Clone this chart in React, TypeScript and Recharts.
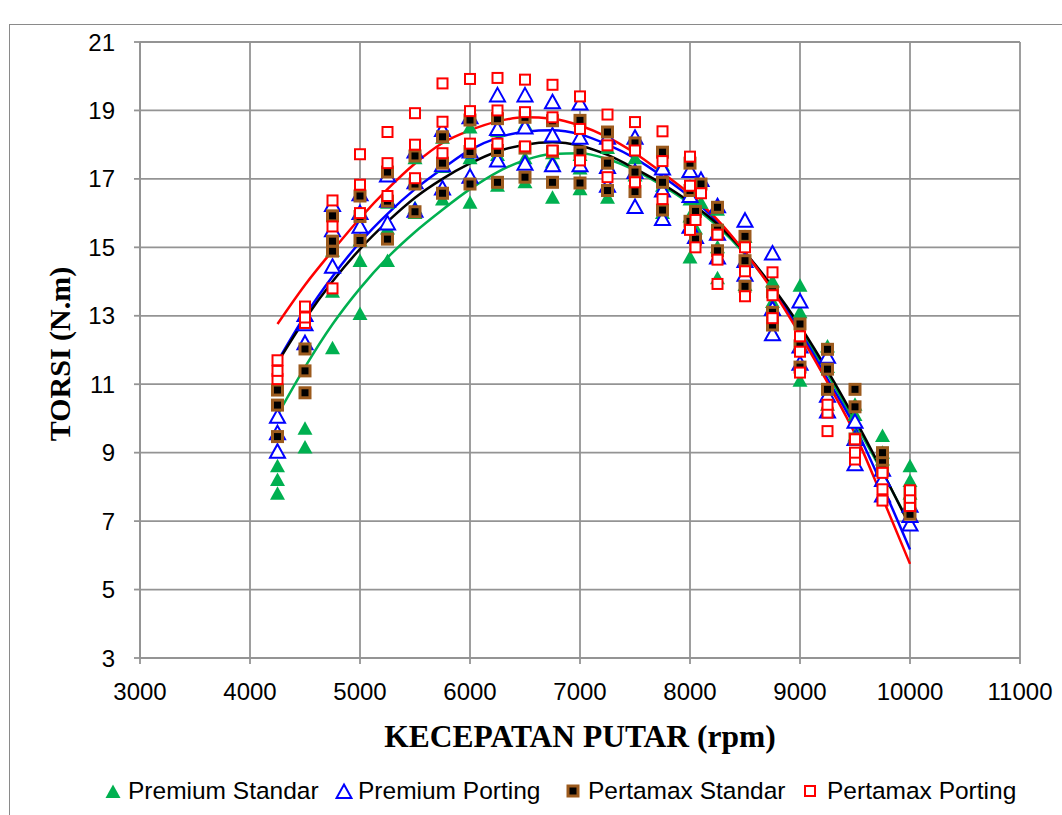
import { ComposedChart, Scatter, Line, XAxis, YAxis, CartesianGrid } from "recharts";

// rpm steps where readings were taken (3 runs each, a few extra around 8000)
const rpm = [
  4250, 4500, 4750, 5000, 5250, 5500, 5750, 6000, 6250, 6500, 6750, 7000, 7250,
  7500, 7750, 8000, 8050, 8100, 8250, 8500, 8750, 9000, 9250, 9500, 9750, 10000,
];

const premiumStandar = [
  [7.8, 8.2, 8.6], [9.15, 9.7, 12.2], [12.05, 13.7, 14.9], [13.05, 14.6, 15.2],
  [14.6, 15.55, 16.3], [16.0, 16.15, 17.6], [16.4, 17.35, 18.2], [16.3, 17.6, 18.5],
  [16.8, 17.7, 18.4], [16.9, 17.6, 18.6], [16.45, 17.5, 17.75], [16.7, 17.3, 17.7],
  [16.45, 17.4, 17.9], [16.2, 17.1, 17.6], [16.0, 16.8, 17.4], [14.7, 15.9, 16.4],
  [15.55], [16.3], [14.1, 15.0, 16.1], [13.9, 14.6, 15.3], [12.5, 13.4, 14.0],
  [11.1, 13.1, 13.88], [10.4, 11.5, 12.1], [9.5, 10.1, 10.4], [8.8, 9.0, 9.49],
  [7.8, 8.17, 8.6],
];

const premiumPorting = [
  [9.03, 9.57, 10.05], [12.2, 12.75, 13.02], [14.43, 15.5, 16.24], [15.6, 16.0, 16.55],
  [15.7, 16.36, 17.1], [16.07, 16.9, 17.8], [16.72, 17.4, 18.43], [17.06, 17.8, 18.8],
  [17.54, 18.46, 19.44], [17.44, 18.5, 19.44], [17.4, 18.27, 19.24], [17.4, 18.2, 19.2],
  [16.8, 17.35, 18.2], [16.18, 17.2, 18.2], [15.83, 16.66, 17.3], [15.6, 16.5, 17.23],
  [15.3], [16.97], [14.7, 15.4, 16.2], [14.2, 14.6, 15.78], [12.46, 13.2, 14.82],
  [11.6, 12.1, 13.42], [10.2, 10.66, 11.8], [8.66, 9.4, 9.9], [7.75, 8.2, 8.5],
  [6.9, 7.15, 7.45],
];

const pertamaxStandar = [
  [9.47, 10.39, 10.83], [10.75, 11.39, 12.03], [14.89, 15.18, 15.92], [15.2, 15.9, 16.5],
  [15.24, 16.35, 17.2], [16.04, 16.85, 17.67], [16.58, 17.46, 18.23], [16.85, 17.8, 18.72],
  [16.9, 17.83, 18.76], [17.05, 17.9, 18.8], [16.9, 17.8, 18.7], [16.88, 17.78, 18.71],
  [16.66, 17.46, 18.37], [16.63, 17.2, 18.05], [16.09, 16.9, 17.78], [15.76, 16.66, 17.46],
  [15.24, 16.05], [16.85], [14.9, 15.5, 16.17], [13.86, 14.61, 15.32], [12.73, 13.1, 13.7],
  [11.5, 12.12, 12.76], [10.85, 11.44, 12.02], [9.4, 10.34, 10.85], [8.5, 8.78, 9.0],
  [7.2, 7.5, 7.83],
];

const pertamaxPorting = [
  [11.15, 11.39, 11.7], [12.79, 12.95, 13.27], [13.8, 15.61, 16.37], [16.0, 16.83, 17.72],
  [16.5, 17.46, 18.37], [17.02, 18.0, 18.92], [17.75, 18.67, 19.79], [18.03, 18.98, 19.92],
  [18.03, 19.0, 19.95], [17.95, 18.95, 19.9], [17.83, 18.8, 19.75], [17.54, 18.46, 19.41],
  [17.05, 17.98, 18.88], [16.9, 17.83, 18.66], [16.41, 17.52, 18.39], [15.51, 16.8, 17.65],
  [15.0, 15.8], [16.58], [13.93, 14.64, 15.37], [13.57, 14.3, 15.0], [12.93, 13.6, 14.27],
  [11.34, 11.95, 12.4], [9.63, 10.17, 10.4], [8.8, 9.0, 9.39], [7.6, 7.93, 8.41],
  [7.44, 7.68, 7.9],
];

// trendlines
const trendRpm = [
  4250, 4500, 4750, 5000, 5250, 5500, 5750, 6000, 6250, 6500, 6750, 7000,
  7250, 7500, 7750, 8000, 8250, 8500, 8750, 9000, 9250, 9500, 9750, 10000,
];
const trendPremiumStandar = [
  10.1, 11.5, 12.75, 13.8, 14.7, 15.45, 16.1, 16.7, 17.2, 17.55, 17.73, 17.75,
  17.58, 17.25, 16.8, 16.27, 15.62, 14.8, 13.8, 12.62, 11.3, 9.88, 8.42, 6.9,
];
const trendPremiumPorting = [
  11.66, 13.0, 14.15, 15.15, 15.98, 16.7, 17.3, 17.85, 18.2, 18.38, 18.42, 18.3,
  18.0, 17.6, 17.07, 16.47, 15.75, 14.85, 13.8, 12.55, 11.15, 9.75, 8.02, 6.17,
];
const trendPertamaxStandar = [
  11.63, 12.9, 14.0, 14.95, 15.75, 16.45, 17.0, 17.45, 17.8, 18.0, 18.07, 17.97,
  17.7, 17.3, 16.85, 16.32, 15.68, 14.85, 13.85, 12.7, 11.4, 9.98, 8.45, 6.85,
];
const trendPertamaxPorting = [
  12.76, 13.9, 14.9, 15.85, 16.7, 17.45, 18.05, 18.42, 18.68, 18.8, 18.76, 18.56,
  18.22, 17.75, 17.17, 16.55, 15.8, 14.85, 13.75, 12.45, 11.05, 9.55, 7.68, 5.75,
];

const xTicks = [3000, 4000, 5000, 6000, 7000, 8000, 9000, 10000, 11000];
const yTicks = [3, 5, 7, 9, 11, 13, 15, 17, 19, 21];

const GREEN = "#00B050";
const BLUE = "#0000FF";
const BROWN = "#9C5B1E";
const RED = "#FF0000";
const GRID = "#949494";

const toPoints = (values: number[][]) =>
  rpm.flatMap((x, i) => values[i].map((y) => ({ x, y })));
const toLine = (values: number[]) => trendRpm.map((x, i) => ({ x, y: values[i] }));

const triPath = (cx: number, cy: number) =>
  `M${cx},${cy - 7.5} L${cx + 7.5},${cy + 6} L${cx - 7.5},${cy + 6} Z`;

const GreenTri = (p: any) => <path d={triPath(p.cx, p.cy)} fill={GREEN} />;
const BlueTri = (p: any) => (
  <path d={triPath(p.cx, p.cy)} fill="#fff" stroke={BLUE} strokeWidth={2} />
);
const BrownSq = (p: any) => (
  <rect x={p.cx - 5} y={p.cy - 5} width={10} height={10} fill="#000" stroke={BROWN} strokeWidth={3} />
);
const RedSq = (p: any) => (
  <rect x={p.cx - 5} y={p.cy - 5} width={10} height={10} fill="#fff" stroke={RED} strokeWidth={2} />
);

const tickStyle = { fontSize: 24, fill: "#000", fontFamily: "Liberation Sans, Arial, sans-serif" };

const legendItems = [
  { label: "Premium Standar", icon: "gtri", iconX: 113, textX: 128 },
  { label: "Premium Porting", icon: "btri", iconX: 344, textX: 358 },
  { label: "Pertamax Standar", icon: "bsq", iconX: 573, textX: 588 },
  { label: "Pertamax Porting", icon: "rsq", iconX: 810, textX: 827 },
];

function LegendIcon({ kind }: { kind: string }) {
  return (
    <svg width={18} height={18} style={{ display: "block" }}>
      {kind === "gtri" && <GreenTri cx={9} cy={10} />}
      {kind === "btri" && <BlueTri cx={9} cy={10} />}
      {kind === "bsq" && <BrownSq cx={9} cy={9} />}
      {kind === "rsq" && <RedSq cx={9} cy={9} />}
    </svg>
  );
}

export default function App() {
  return (
    <div
      style={{
        position: "fixed",
        left: 0,
        top: 0,
        width: 1062,
        height: 815,
        overflow: "hidden",
        background: "#fff",
      }}
    >
      <div
        style={{
          position: "absolute",
          left: 9,
          top: 24,
          width: 1100,
          height: 900,
          border: "1px solid #8a8a8a",
        }}
      />
      <div style={{ position: "absolute", left: 0, top: 0 }}>
        <ComposedChart
          width={1062}
          height={740}
          margin={{ top: 42, right: 42, bottom: 52, left: 0 }}
        >
          <CartesianGrid stroke={GRID} strokeWidth={1.8} />
          <XAxis
            type="number"
            dataKey="x"
            domain={[3000, 11000]}
            ticks={xTicks}
            interval={0}
            height={30}
            stroke={GRID}
            strokeWidth={1.8}
            tickSize={6}
            tickMargin={19}
            tick={tickStyle}
          />
          <YAxis
            type="number"
            dataKey="y"
            domain={[3, 21]}
            ticks={yTicks}
            interval={0}
            width={140}
            stroke={GRID}
            strokeWidth={1.8}
            tickSize={6}
            tickMargin={19}
            tick={tickStyle}
          />
          <Scatter name="Premium Standar" data={toPoints(premiumStandar)} dataKey="y" shape={GreenTri} isAnimationActive={false} />
          <Scatter name="Premium Porting" data={toPoints(premiumPorting)} dataKey="y" shape={BlueTri} isAnimationActive={false} />
          <Scatter name="Pertamax Standar" data={toPoints(pertamaxStandar)} dataKey="y" shape={BrownSq} isAnimationActive={false} />
          <Scatter name="Pertamax Porting" data={toPoints(pertamaxPorting)} dataKey="y" shape={RedSq} isAnimationActive={false} />
          <Line data={toLine(trendPremiumStandar)} dataKey="y" type="monotone" stroke={GREEN} strokeWidth={2.5} dot={false} isAnimationActive={false} />
          <Line data={toLine(trendPremiumPorting)} dataKey="y" type="monotone" stroke={BLUE} strokeWidth={2.5} dot={false} isAnimationActive={false} />
          <Line data={toLine(trendPertamaxStandar)} dataKey="y" type="monotone" stroke="#000" strokeWidth={2.5} dot={false} isAnimationActive={false} />
          <Line data={toLine(trendPertamaxPorting)} dataKey="y" type="monotone" stroke={RED} strokeWidth={2.5} dot={false} isAnimationActive={false} />
        </ComposedChart>
      </div>
      <div
        style={{
          position: "absolute",
          left: 60,
          top: 354,
          transform: "translate(-50%, -50%) rotate(-90deg)",
          whiteSpace: "nowrap",
          fontFamily: "Liberation Serif, Times New Roman, serif",
          fontWeight: "bold",
          fontSize: 30,
          color: "#000",
        }}
      >
        TORSI (N.m)
      </div>
      <div
        style={{
          position: "absolute",
          left: 580,
          top: 737,
          transform: "translate(-50%, -50%)",
          whiteSpace: "nowrap",
          fontFamily: "Liberation Serif, Times New Roman, serif",
          fontWeight: "bold",
          fontSize: 31.5,
          color: "#000",
        }}
      >
        KECEPATAN PUTAR (rpm)
      </div>
      {legendItems.map((it) => (
        <div key={it.label}>
          <div style={{ position: "absolute", left: it.iconX - 9, top: 782 }}>
            <LegendIcon kind={it.icon} />
          </div>
          <div
            style={{
              position: "absolute",
              left: it.textX,
              top: 791,
              transform: "translateY(-50%)",
              whiteSpace: "nowrap",
              fontFamily: "Liberation Sans, Arial, sans-serif",
              fontSize: 24.5,
              color: "#000",
              lineHeight: 1,
            }}
          >
            {it.label}
          </div>
        </div>
      ))}
    </div>
  );
}
